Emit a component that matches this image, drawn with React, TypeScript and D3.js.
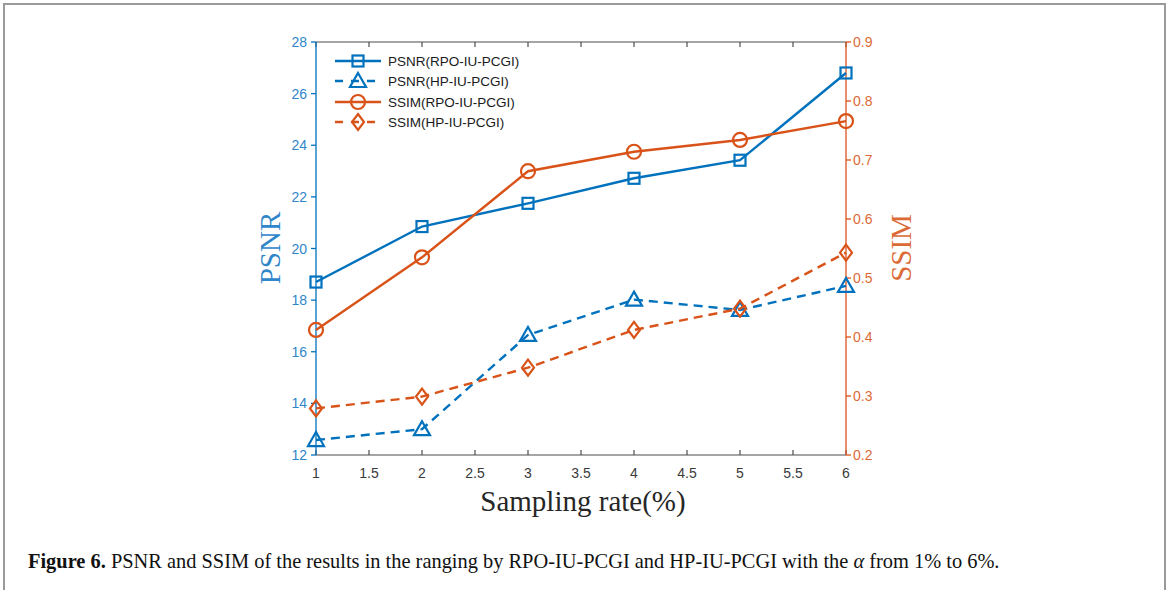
import React from "react";
import * as d3 from "d3";

const samplingRates = [1, 2, 3, 4, 5, 6];
const psnrRPO = [18.7, 20.85, 21.75, 22.72, 23.42, 26.8];
const psnrHP = [12.58, 13.0, 16.65, 18.02, 17.62, 18.55];
const ssimRPO = [0.412, 0.535, 0.681, 0.714, 0.734, 0.766];
const ssimHP = [0.279, 0.299, 0.348, 0.412, 0.448, 0.543];

const xTicks = [1, 1.5, 2, 2.5, 3, 3.5, 4, 4.5, 5, 5.5, 6];
const psnrTicks = [12, 14, 16, 18, 20, 22, 24, 26, 28];
const ssimTicks = [0.2, 0.3, 0.4, 0.5, 0.6, 0.7, 0.8, 0.9];
const legendLabels = ["PSNR(RPO-IU-PCGI)", "PSNR(HP-IU-PCGI)", "SSIM(RPO-IU-PCGI)", "SSIM(HP-IU-PCGI)"];

const BLUE = "#0072BD";
const ORANGE = "#D95319";
const BLUE_TXT = "#2f86c9";
const ORANGE_TXT = "#dc6a36";
const SANS = "'Liberation Sans', Arial, sans-serif";
const SERIF = "'Liberation Serif', 'Times New Roman', serif";

type MarkerKind = "square" | "triangle" | "circle" | "diamond";

function Marker({ kind, x, y, color }: { kind: MarkerKind; x: number; y: number; color: string }) {
  const sw = 2.2;
  if (kind === "square") return <rect x={x - 5.5} y={y - 5.5} width={11} height={11} fill="none" stroke={color} strokeWidth={sw} />;
  if (kind === "circle") return <circle cx={x} cy={y} r={7} fill="none" stroke={color} strokeWidth={sw} />;
  if (kind === "triangle") return <path d={`M${x},${y - 8} L${x + 8},${y + 6} L${x - 8},${y + 6} Z`} fill="none" stroke={color} strokeWidth={sw} />;
  return <path d={`M${x},${y - 8} L${x + 6},${y} L${x},${y + 8} L${x - 6},${y} Z`} fill="none" stroke={color} strokeWidth={sw} />;
}

export default function App() {
  const W = 1170, H = 590;
  const left = 316, right = 846, top = 42, bottom = 455;
  const x = d3.scaleLinear().domain([1, 6]).range([left, right]);
  const yL = d3.scaleLinear().domain([12, 28]).range([bottom, top]);
  const yR = d3.scaleLinear().domain([0.2, 0.9]).range([bottom, top]);

  const lineL = d3.line<number>().x((_, i) => x(samplingRates[i])).y((d) => yL(d));
  const lineR = d3.line<number>().x((_, i) => x(samplingRates[i])).y((d) => yR(d));

  const series = [
    { data: psnrRPO, gen: lineL, y: yL, color: BLUE, dash: undefined, kind: "square" as MarkerKind },
    { data: psnrHP, gen: lineL, y: yL, color: BLUE, dash: "9 6", kind: "triangle" as MarkerKind },
    { data: ssimRPO, gen: lineR, y: yR, color: ORANGE, dash: undefined, kind: "circle" as MarkerKind },
    { data: ssimHP, gen: lineR, y: yR, color: ORANGE, dash: "9 6", kind: "diamond" as MarkerKind },
  ];
  const legendY = [61, 81, 102, 122];

  return (
    <svg width={W} height={H} style={{ position: "absolute", left: 0, top: 0, background: "white" }}>
      <rect x={0} y={0} width={W} height={H} fill="white" />
      <path d={`M4,${H + 5} L4,4 L1165,4 L1165,${H + 5}`} fill="none" stroke="#9a9a9a" strokeWidth={2} />

      {/* top & bottom axis */}
      <line x1={left} x2={right} y1={top} y2={top} stroke="#4d4d4d" strokeWidth={1.2} />
      <line x1={left} x2={right} y1={bottom} y2={bottom} stroke="#4d4d4d" strokeWidth={1.2} />
      {xTicks.map((t) => (
        <g key={t}>
          <line x1={x(t)} x2={x(t)} y1={bottom} y2={bottom - 5} stroke="#4d4d4d" strokeWidth={1.2} />
          <line x1={x(t)} x2={x(t)} y1={top} y2={top + 5} stroke="#4d4d4d" strokeWidth={1.2} />
          <text x={x(t)} y={478} textAnchor="middle" fontFamily={SANS} fontSize={14} fill="#3a3a3a">{t}</text>
        </g>
      ))}

      {/* left axis */}
      <line x1={left} x2={left} y1={top} y2={bottom} stroke={BLUE} strokeWidth={1.3} />
      {psnrTicks.map((t) => (
        <g key={t}>
          <line x1={left} x2={left - 5} y1={yL(t)} y2={yL(t)} stroke={BLUE} strokeWidth={1.3} />
          <text x={307} y={yL(t) + 5} textAnchor="end" fontFamily={SANS} fontSize={14} fill={BLUE_TXT}>{t}</text>
        </g>
      ))}
      <text transform={`translate(280,248) rotate(-90)`} textAnchor="middle" fontFamily={SERIF} fontSize={29} fill={BLUE_TXT}>PSNR</text>

      {/* right axis */}
      <line x1={right} x2={right} y1={top} y2={bottom} stroke={ORANGE} strokeWidth={1.3} />
      {ssimTicks.map((t) => (
        <g key={t}>
          <line x1={right} x2={right + 5} y1={yR(t)} y2={yR(t)} stroke={ORANGE} strokeWidth={1.3} />
          <text x={853} y={yR(t) + 5} textAnchor="start" fontFamily={SANS} fontSize={14} fill={ORANGE_TXT}>{t.toFixed(1)}</text>
        </g>
      ))}
      <text transform={`translate(911,248) rotate(-90)`} textAnchor="middle" fontFamily={SERIF} fontSize={29} fill={ORANGE_TXT}>SSIM</text>

      {/* series */}
      {series.map((s, si) => (
        <g key={si}>
          <path d={s.gen(s.data) || ""} fill="none" stroke={s.color} strokeWidth={2.4} strokeDasharray={s.dash} />
          {s.data.map((v, i) => (
            <Marker key={i} kind={s.kind} x={x(samplingRates[i])} y={s.y(v)} color={s.color} />
          ))}
        </g>
      ))}

      {/* legend */}
      {series.map((s, i) => (
        <g key={i}>
          <line x1={335} x2={381} y1={legendY[i]} y2={legendY[i]} stroke={s.color} strokeWidth={2.4} strokeDasharray={s.dash ? "8 8" : undefined} />
          <Marker kind={s.kind} x={358} y={legendY[i]} color={s.color} />
          <text x={388} y={legendY[i] + 4.8} fontFamily={SANS} fontSize={13.5} fill="#1a1a1a">{legendLabels[i]}</text>
        </g>
      ))}

      <text x={583} y={511} textAnchor="middle" fontFamily={SERIF} fontSize={29} fill="#262626">Sampling rate(%)</text>

      <text x={28} y={568} fontFamily={SERIF} fontSize={20.4} fill="#111">
        <tspan fontWeight="bold">Figure 6.</tspan>
        <tspan> PSNR and SSIM of the results in the ranging by RPO-IU-PCGI and HP-IU-PCGI with the </tspan>
        <tspan fontStyle="italic">α</tspan>
        <tspan> from 1% to 6%.</tspan>
      </text>
    </svg>
  );
}
